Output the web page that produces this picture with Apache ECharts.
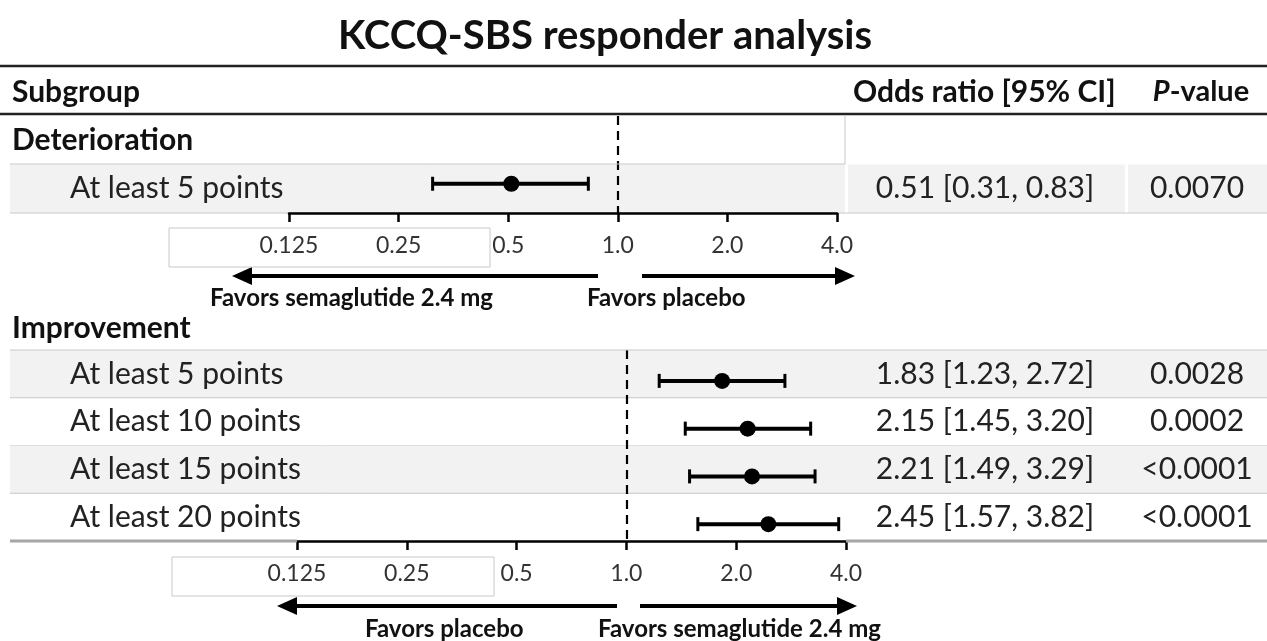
<!DOCTYPE html>
<html>
<head>
<meta charset="utf-8">
<script src="https://cdn.jsdelivr.net/npm/echarts@6/dist/echarts.min.js"></script>
<style>
html,body{margin:0;padding:0;background:#fff}
#chart{width:1267px;height:641px}
</style>
</head>
<body>
<div id="chart"></div>
<script>
// Deterioration
var detHeader = 'Deterioration';
var detLabels = ['At least 5 points'];
var detOR = [0.51];
var detLow = [0.31];
var detHigh = [0.83];
var detP = ['0.0070'];

// Improvement
var impHeader = 'Improvement';
var impLabels = ['At least 5 points', 'At least 10 points', 'At least 15 points', 'At least 20 points'];
var impOR = [1.83, 2.15, 2.21, 2.45];
var impLow = [1.23, 1.45, 1.49, 1.57];
var impHigh = [2.72, 3.20, 3.29, 3.82];
var impP = ['0.0028', '0.0002', '<0.0001', '<0.0001'];

// x axis
var tickValues = [0.125, 0.25, 0.5, 1, 2, 4];
var tickLabels = ['0.125', '0.25', '0.5', '1.0', '2.0', '4.0'];

var FONT = 'Lato';
var chart = echarts.init(document.getElementById('chart'));

function fmtCI(or, lo, hi, i) {
  return or[i].toFixed(2) + ' [' + lo[i].toFixed(2) + ', ' + hi[i].toFixed(2) + ']';
}

function xAxisOf(gi) {
  return {
    type: 'log', logBase: 2, gridIndex: gi,
    min: tickValues[0], max: tickValues[tickValues.length - 1],
    axisLine: {show: true, onZero: false, lineStyle: {color: '#000', width: 2.5}},
    axisTick: {show: true, length: 9, lineStyle: {color: '#000', width: 2.5}},
    splitLine: {show: false},
    minorTick: {show: false},
    axisLabel: {
      fontFamily: FONT, fontSize: 23, color: '#333', margin: 21,
      formatter: function (v) {
        for (var k = 0; k < tickValues.length; k++) {
          if (Math.abs(tickValues[k] - v) < 1e-6) return tickLabels[k];
        }
        return '';
      }
    }
  };
}

// table rows (background, label, OR text, p-value)
function tableSeries(ai, labels, or, lo, hi, p, rowOffset, gaps, lastLine) {
  return {
    type: 'custom', xAxisIndex: ai, yAxisIndex: ai, z: -1, silent: true,
    data: labels.map(function (l, i) { return [1, i + rowOffset, i]; }),
    encode: {x: 0, y: 1},
    renderItem: function (params, api) {
      var i = api.value(2);
      var c = api.coord([1, api.value(1)]);
      var h = api.size([1, 1])[1];
      var top = c[1] - h / 2, bot = c[1] + h / 2;
      var kids = [];
      if (i % 2 === 0) {
        kids.push({type: 'rect', shape: {x: 10, y: top, width: 1257, height: h}, style: {fill: '#f2f2f2'}});
        (gaps || []).forEach(function (g) {
          kids.push({type: 'rect', shape: {x: g, y: top, width: 3, height: h}, style: {fill: '#fff'}});
        });
      }
      if (i < labels.length - 1 || lastLine) {
        kids.push({type: 'line', shape: {x1: 10, y1: bot, x2: 1267, y2: bot}, style: {stroke: '#c8c8c8', lineWidth: 1}});
      }
      var ts = {fontFamily: FONT, fontSize: 30, fill: '#222', verticalAlign: 'middle'};
      kids.push({type: 'text', style: Object.assign({text: labels[i], x: 70, y: c[1], align: 'left'}, ts)});
      kids.push({type: 'text', style: Object.assign({text: fmtCI(or, lo, hi, i), x: 985, y: c[1], align: 'center'}, ts)});
      kids.push({type: 'text', style: Object.assign({text: p[i], x: 1197, y: c[1], align: 'center'}, ts)});
      return {type: 'group', children: kids};
    }
  };
}

// odds ratio with CI whiskers
function ciSeries(ai, or, lo, hi, rowOffset, shift) {
  return {
    type: 'custom', xAxisIndex: ai, yAxisIndex: ai, z: 5, silent: true,
    data: or.map(function (v, i) { return [lo[i], hi[i], v, i + rowOffset]; }),
    encode: {x: [0, 1, 2], y: 3},
    renderItem: function (params, api) {
      var row = api.value(3);
      var pl = api.coord([api.value(0), row]);
      var ph = api.coord([api.value(1), row]);
      var pm = api.coord([api.value(2), row]);
      var y = pm[1] + shift;
      var st = {stroke: '#000', lineWidth: 3};
      return {type: 'group', children: [
        {type: 'line', shape: {x1: pl[0], y1: y, x2: ph[0], y2: y}, style: {stroke: '#000', lineWidth: 4}},
        {type: 'line', shape: {x1: pl[0], y1: y - 7, x2: pl[0], y2: y + 7}, style: st},
        {type: 'line', shape: {x1: ph[0], y1: y - 7, x2: ph[0], y2: y + 7}, style: st},
        {type: 'circle', shape: {cx: pm[0], cy: y, r: 8}, style: {fill: '#000'}}
      ]};
    }
  };
}

function refLine(ai) {
  return {
    type: 'line', xAxisIndex: ai, yAxisIndex: ai, data: [], z: 4,
    markLine: {
      silent: true, symbol: ['none', 'none'], label: {show: false},
      lineStyle: {color: '#000', width: 2.2, type: [9, 6]},
      data: [{xAxis: 1}]
    }
  };
}

function hline(x1, x2, y, color, w) {
  return {type: 'line', z: 100, shape: {x1: x1, y1: y, x2: x2, y2: y}, style: {stroke: color, lineWidth: w}};
}
function vline(x, y1, y2, color, w) {
  return {type: 'line', z: 100, shape: {x1: x, y1: y1, x2: x, y2: y2}, style: {stroke: color, lineWidth: w}};
}
function txt(text, x, y, size, bold, align) {
  return {type: 'text', z: 100, style: {
    text: text, x: x, y: y, fill: '#111',
    font: (bold ? 'bold ' : '') + size + 'px ' + FONT,
    textAlign: align || 'left', textVerticalAlign: 'middle',
    align: align || 'left', verticalAlign: 'middle'
  }};
}
function arrow(xFrom, xTip, y) {
  var dir = xTip > xFrom ? 1 : -1;
  var base = xTip - dir * 20;
  return {type: 'group', z: 100, children: [
    {type: 'line', shape: {x1: xFrom, y1: y, x2: base, y2: y}, style: {stroke: '#000', lineWidth: 4}},
    {type: 'polygon', shape: {points: [[xTip, y], [base, y - 9], [base, y + 9]]}, style: {fill: '#000'}}
  ]};
}
function box(x, y, w, h) {
  return {type: 'rect', z: 100, shape: {x: x, y: y, width: w, height: h}, style: {fill: 'none', stroke: '#c8c8c8', lineWidth: 1}};
}

var option = {
  animation: false,
  grid: [
    {left: 289, top: 116, width: 548, height: 97},
    {left: 297, top: 350, width: 549, height: 191}
  ],
  xAxis: [xAxisOf(0), xAxisOf(1)],
  yAxis: [
    {type: 'category', gridIndex: 0, inverse: true, data: [detHeader].concat(detLabels), show: false},
    {type: 'category', gridIndex: 1, inverse: true, data: impLabels, show: false}
  ],
  series: [
    tableSeries(0, detLabels, detOR, detLow, detHigh, detP, 1, [845, 1125], true),
    tableSeries(1, impLabels, impOR, impLow, impHigh, impP, 0, null, false),
    refLine(0),
    refLine(1),
    ciSeries(0, detOR, detLow, detHigh, 1, -5),
    ciSeries(1, impOR, impLow, impHigh, 0, 7)
  ],
  graphic: [
    txt('KCCQ-SBS responder analysis', 605, 36, 40, true, 'center'),
    hline(0, 1267, 66, '#222', 2.5),
    hline(0, 1267, 114, '#222', 2.5),
    txt('Subgroup', 12, 92, 30, true),
    txt('Odds ratio [95% CI]', 853, 92, 30, true),
    {type: 'text', z: 100, style: {
      text: '{i|P}{b|-value}', x: 1201, y: 92, align: 'center', verticalAlign: 'middle',
      textAlign: 'center', textVerticalAlign: 'middle',
      rich: {
        i: {fontFamily: FONT, fontSize: 29, fontStyle: 'italic', fontWeight: 'bold', fill: '#111', color: '#111'},
        b: {fontFamily: FONT, fontSize: 29, fontWeight: 'bold', fill: '#111', color: '#111'}
      }
    }},
    txt(detHeader, 12, 140, 30, true),
    hline(10, 845, 164, '#c8c8c8', 1),
    vline(845, 116, 164, '#c8c8c8', 1),
    box(169, 228, 321, 39),
    arrow(598, 232, 276),
    arrow(642, 855, 276),
    txt('Favors semaglutide 2.4 mg', 210, 298, 24, true),
    txt('Favors placebo', 587, 298, 24, true),
    txt(impHeader, 12, 328, 30, true),
    hline(10, 1267, 350, '#c8c8c8', 1),
    hline(10, 297, 541, '#a6a6a6', 3),
    hline(846, 1267, 541, '#a6a6a6', 3),
    box(172, 557, 322, 39),
    arrow(617, 277, 606),
    arrow(640, 857, 606),
    txt('Favors placebo', 365, 629, 24, true),
    txt('Favors semaglutide 2.4 mg', 598, 629, 24, true)
  ]
};
chart.setOption(option);
</script>
</body>
</html>
